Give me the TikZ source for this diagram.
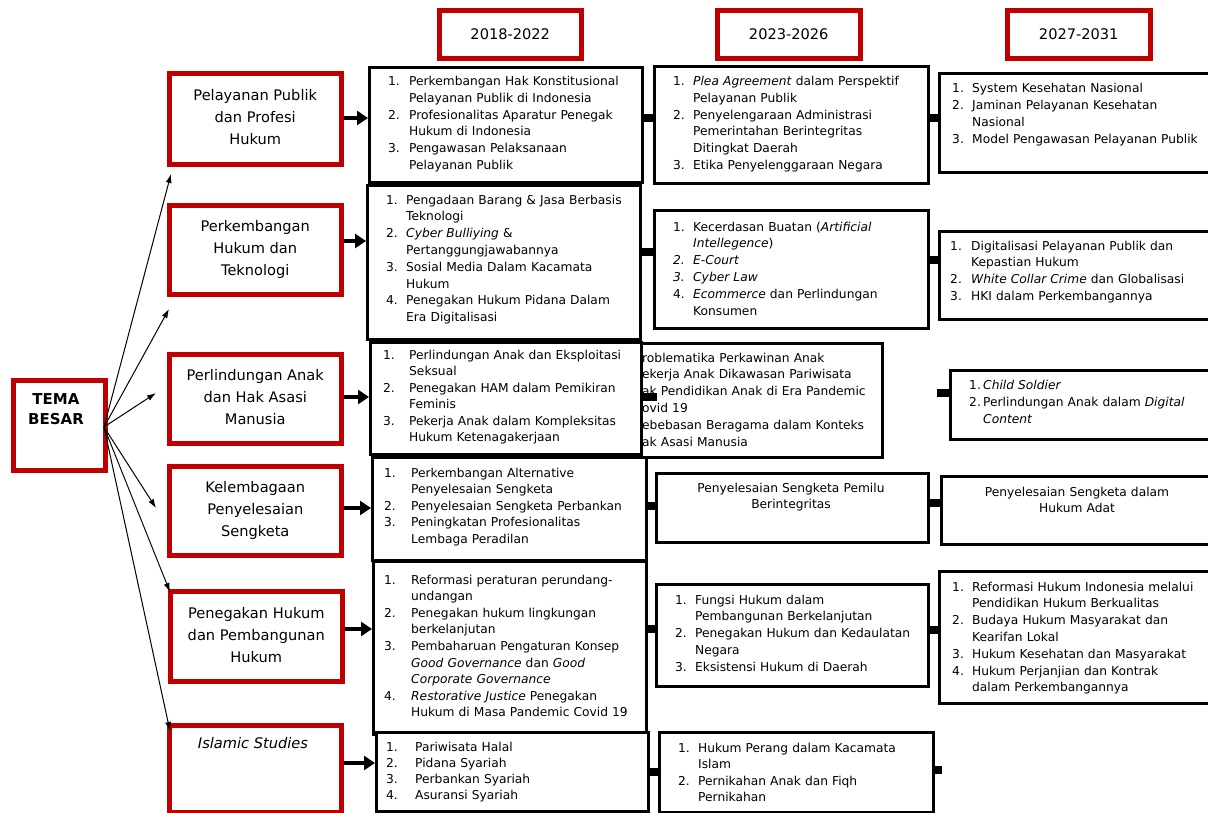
\documentclass[tikz,border=0pt]{standalone}
\usepackage{fontspec}
\setmainfont{DejaVu Sans}
\usetikzlibrary{arrows.meta}
\definecolor{dred}{RGB}{192,0,0}
\newcommand{\itm}[3]{\hangindent=#1\hangafter=1\noindent\makebox[#1][l]{#2}#3\par}
\begin{document}
\begin{tikzpicture}[x=1pt,y=-1pt,
  redbox/.style={draw=dred,line width=4.5pt,fill=white,inner sep=0pt,anchor=north west,align=center,font=\fontsize{14.6}{22}\selectfont},
  blkbox/.style={draw=black,line width=2.8pt,fill=white,inner sep=0pt,anchor=north west},
  lst/.style={anchor=base west,inner sep=0pt,text width=285pt,align=left,font=\fontsize{12.25}{16.8}\selectfont},
  cen/.style={anchor=base,inner sep=0pt,text width=260pt,align=center,font=\fontsize{12.25}{16.8}\selectfont},
  bar/.style={line width=8pt},
  fat/.style={line width=4.5pt,-{Triangle[length=11pt,width=14pt]}},
  slim/.style={line width=1pt,-{Latex[length=9pt,width=6pt]}}
]
\useasboundingbox (0,0) rectangle (1208,812);
\fill[white] (0,0) rectangle (1208,812);

% year headers
\node[redbox,minimum width=142pt,minimum height=48pt] (Y1) at (437,8) {2018-2022};
\node[redbox,minimum width=143pt,minimum height=48pt] (Y2) at (715,8) {2023-2026};
\node[redbox,minimum width=143pt,minimum height=48pt] (Y3) at (1005,8) {2027-2031};

% tema besar
\node[redbox,minimum width=92pt,minimum height=90pt] (TB) at (11,378) {};
\node[anchor=north,inner sep=0pt,align=center,font=\bfseries\fontsize{15}{20}\selectfont] (TBl) at (56,393) {TEMA\\BESAR};

% theme boxes
\node[redbox,minimum width=172pt,minimum height=91pt,text depth=4pt] (T1) at (167,71) {Pelayanan Publik\\dan Profesi\\Hukum};
\node[redbox,minimum width=172pt,minimum height=89pt] (T2) at (167,203) {Perkembangan\\Hukum dan\\Teknologi};
\node[redbox,minimum width=172pt,minimum height=89pt,text depth=3pt] (T3) at (167,352) {Perlindungan Anak\\dan Hak Asasi\\Manusia};
\node[redbox,minimum width=172pt,minimum height=89pt] (T4) at (167,464) {Kelembagaan\\Penyelesaian\\Sengketa};
\node[redbox,minimum width=172pt,minimum height=90pt,text depth=3pt] (T5) at (168,589) {Penegakan Hukum\\dan Pembangunan\\Hukum};
\node[redbox,minimum width=172pt,minimum height=87pt] (T6) at (167,723) {};
\node[anchor=base,inner sep=0pt,font=\itshape\fontsize{14.6}{22}\selectfont] (T6l) at (253,748) {Islamic Studies};

% arrows from TEMA BESAR
\coordinate (o) at (104,427);
\coordinate (p1) at (171,174);
\coordinate (p2) at (169,309);
\coordinate (p3) at (156,393);
\coordinate (p4) at (156,508);
\coordinate (p5) at (170,592);
\coordinate (p6) at (170,731);
\foreach \p in {p1,p2,p3,p4,p5,p6} \draw[slim] (o) -- (\p);

% column 2023-2026, third row (drawn first, its left part is covered)
\node[blkbox,minimum width=281pt,minimum height=114pt] (B3) at (600,342) {};
\node[lst] (B3t) at (642,362) {%
roblematika Perkawinan Anak\newline
ekerja Anak Dikawasan Pariwisata\newline
ak Pendidikan Anak di Era Pandemic\newline
ovid 19\newline
\makebox[226pt][s]{ebebasan Beragama dalam Konteks}\newline
ak Asasi Manusia};

% column 2018-2022
\node[blkbox,minimum width=273pt,minimum height=115pt] (A1) at (368,66) {};
\node[lst] (A1t) at (388,85.5) {%
\itm{21pt}{1.}{Perkembangan Hak Konstitusional\newline Pelayanan Publik di Indonesia}
\itm{21pt}{2.}{Profesionalitas Aparatur Penegak\newline Hukum di Indonesia}
\itm{21pt}{3.}{Pengawasan Pelaksanaan\newline Pelayanan Publik}};

\node[blkbox,minimum width=273pt,minimum height=154pt] (A2) at (366,184) {};
\node[lst] (A2t) at (386,204) {%
\itm{20pt}{1.}{Pengadaan Barang \& Jasa Berbasis\newline Teknologi}
\itm{20pt}{2.}{\textit{Cyber Bulliying} \&\newline Pertanggungjawabannya}
\itm{20pt}{3.}{Sosial Media Dalam Kacamata\newline Hukum}
\itm{20pt}{4.}{Penegakan Hukum Pidana Dalam\newline Era Digitalisasi}};

\node[blkbox,minimum width=271pt,minimum height=112pt] (A3) at (369,341) {};
\node[lst,font=\fontsize{12.25}{16.5}\selectfont] (A3t) at (383,359) {%
\itm{26pt}{1.}{Perlindungan Anak dan Eksploitasi\newline Seksual}
\itm{26pt}{2.}{Penegakan HAM dalam Pemikiran\newline Feminis}
\itm{26pt}{3.}{Pekerja Anak dalam Kompleksitas\newline Hukum Ketenagakerjaan}};

\node[blkbox,minimum width=274pt,minimum height=103pt] (A4) at (371,456) {};
\node[lst,font=\fontsize{12.25}{16.5}\selectfont] (A4t) at (384,477) {%
\itm{27pt}{1.}{Perkembangan Alternative\newline Penyelesaian Sengketa}
\itm{27pt}{2.}{Penyelesaian Sengketa Perbankan}
\itm{27pt}{3.}{Peningkatan Profesionalitas\newline Lembaga Peradilan}};

\node[blkbox,minimum width=273pt,minimum height=173pt] (A5) at (372,560) {};
\node[lst,font=\fontsize{12.25}{16.6}\selectfont] (A5t) at (384,584) {%
\itm{27pt}{1.}{Reformasi peraturan perundang-\newline undangan}
\itm{27pt}{2.}{Penegakan hukum lingkungan\newline berkelanjutan}
\itm{27pt}{3.}{Pembaharuan Pengaturan Konsep\newline \textit{Good Governance} dan \textit{Good}\newline \textit{Corporate Governance}}
\itm{27pt}{4.}{\textit{Restorative Justice} Penegakan\newline Hukum di Masa Pandemic Covid 19}};

\node[blkbox,minimum width=272pt,minimum height=79pt] (A6) at (375,731) {};
\node[lst,font=\fontsize{12.25}{16.3}\selectfont] (A6t) at (386,751) {%
\itm{29pt}{1.}{Pariwisata Halal}
\itm{29pt}{2.}{Pidana Syariah}
\itm{29pt}{3.}{Perbankan Syariah}
\itm{29pt}{4.}{Asuransi Syariah}};

% column 2023-2026
\node[blkbox,minimum width=274pt,minimum height=117pt] (B1) at (653,65) {};
\node[lst] (B1t) at (673,85.5) {%
\itm{20pt}{1.}{\textit{Plea Agreement} dalam Perspektif\newline Pelayanan Publik}
\itm{20pt}{2.}{Penyelengaraan Administrasi\newline Pemerintahan Berintegritas\newline Ditingkat Daerah}
\itm{20pt}{3.}{Etika Penyelenggaraan Negara}};

\node[blkbox,minimum width=274pt,minimum height=118pt] (B2) at (653,209) {};
\node[lst] (B2t) at (673,231) {%
\itm{20pt}{1.}{Kecerdasan Buatan (\textit{Artificial}\newline \textit{Intellegence})}
\itm{20pt}{\textit{2.}}{\textit{E-Court}}
\itm{20pt}{\textit{3.}}{\textit{Cyber Law}}
\itm{20pt}{4.}{\textit{Ecommerce} dan Perlindungan\newline Konsumen}};

\node[blkbox,minimum width=272pt,minimum height=69pt] (B4) at (655,472) {};
\node[cen] (B4t) at (791,492) {Penyelesaian Sengketa Pemilu\\Berintegritas};

\node[blkbox,minimum width=272pt,minimum height=102pt] (B5) at (655,583) {};
\node[lst] (B5t) at (675,604) {%
\itm{20pt}{1.}{Fungsi Hukum dalam\newline Pembangunan Berkelanjutan}
\itm{20pt}{2.}{Penegakan Hukum dan Kedaulatan\newline Negara}
\itm{20pt}{3.}{Eksistensi Hukum di Daerah}};

\node[blkbox,minimum width=274pt,minimum height=80pt] (B6) at (658,731) {};
\node[lst,font=\fontsize{12.25}{16.5}\selectfont] (B6t) at (678,752) {%
\itm{20pt}{1.}{Hukum Perang dalam Kacamata\newline Islam}
\itm{20pt}{2.}{Pernikahan Anak dan Fiqh\newline Pernikahan}};

% column 2027-2031
\node[blkbox,minimum width=280pt,minimum height=99pt] (C1) at (938,72) {};
\node[lst,font=\fontsize{12.25}{17}\selectfont] (C1t) at (952,92) {%
\itm{20pt}{1.}{System Kesehatan Nasional}
\itm{20pt}{2.}{Jaminan Pelayanan Kesehatan\newline Nasional}
\itm{20pt}{3.}{Model Pengawasan Pelayanan Publik}};

\node[blkbox,minimum width=280pt,minimum height=88pt] (C2) at (938,230) {};
\node[lst] (C2t) at (950,250) {%
\itm{21pt}{1.}{Digitalisasi Pelayanan Publik dan\newline Kepastian Hukum}
\itm{21pt}{2.}{\textit{White Collar Crime} dan Globalisasi}
\itm{21pt}{3.}{HKI dalam Perkembangannya}};

\node[blkbox,minimum width=270pt,minimum height=69pt] (C3) at (949,369) {};
\node[lst,font=\fontsize{12.25}{17}\selectfont] (C3t) at (969,389) {%
\itm{14pt}{1.}{\textit{Child Soldier}}
\itm{14pt}{2.}{\makebox[219pt][s]{Perlindungan Anak dalam \textit{Digital}}\newline \textit{Content}}};

\node[blkbox,minimum width=274pt,minimum height=68pt] (C4) at (940,475) {};
\node[cen] (C4t) at (1077,496) {Penyelesaian Sengketa dalam\\Hukum Adat};

\node[blkbox,minimum width=280pt,minimum height=132pt] (C5) at (938,570) {};
\node[lst] (C5t) at (952,591) {%
\itm{20pt}{1.}{Reformasi Hukum Indonesia melalui\newline Pendidikan Hukum Berkualitas}
\itm{20pt}{2.}{Budaya Hukum Masyarakat dan\newline Kearifan Lokal}
\itm{20pt}{3.}{Hukum Kesehatan dan Masyarakat}
\itm{20pt}{4.}{Hukum Perjanjian dan Kontrak\newline dalam Perkembangannya}};

% connector bars
\coordinate (r1) at (0,118);
\coordinate (r2a) at (0,252);
\coordinate (r2b) at (0,260);
\coordinate (r4a) at (0,506);
\coordinate (r4b) at (0,503);
\coordinate (r5a) at (0,629);
\coordinate (r5b) at (0,630);
\coordinate (r6) at (0,772);
\coordinate (ab3e) at (657,397);
\coordinate (bc3s) at (937,393);
\coordinate (b6e) at (942,770);
\draw[bar] (A1.east |- r1) -- (B1.west |- r1);
\draw[bar] (B1.east |- r1) -- (C1.west |- r1);
\draw[bar] (A2.east |- r2a) -- (B2.west |- r2a);
\draw[bar] (B2.east |- r2b) -- (C2.west |- r2b);
\draw[bar] (A3.east |- ab3e) -- (ab3e);
\draw[bar] (bc3s) -- (C3.west |- bc3s);
\draw[bar] (A4.east |- r4a) -- (B4.west |- r4a);
\draw[bar] (B4.east |- r4b) -- (C4.west |- r4b);
\draw[bar] (A5.east |- r5a) -- (B5.west |- r5a);
\draw[bar] (B5.east |- r5b) -- (C5.west |- r5b);
\draw[bar] (A6.east |- r6) -- (B6.west |- r6);
\draw[bar] (B6.east |- b6e) -- (b6e);

% thick arrows theme -> 2018-2022
\coordinate (q1) at (0,118);
\coordinate (q2) at (0,241);
\coordinate (q3) at (0,397);
\coordinate (q4) at (0,508);
\coordinate (q5) at (0,629);
\coordinate (q6) at (0,763);
\draw[fat] (T1.east |- q1) -- (A1.west |- q1);
\draw[fat] (T2.east |- q2) -- (A2.west |- q2);
\draw[fat] (T3.east |- q3) -- (A3.west |- q3);
\draw[fat] (T4.east |- q4) -- (A4.west |- q4);
\draw[fat] (T5.east |- q5) -- (A5.west |- q5);
\draw[fat] (T6.east |- q6) -- (A6.west |- q6);
\end{tikzpicture}
\end{document}
